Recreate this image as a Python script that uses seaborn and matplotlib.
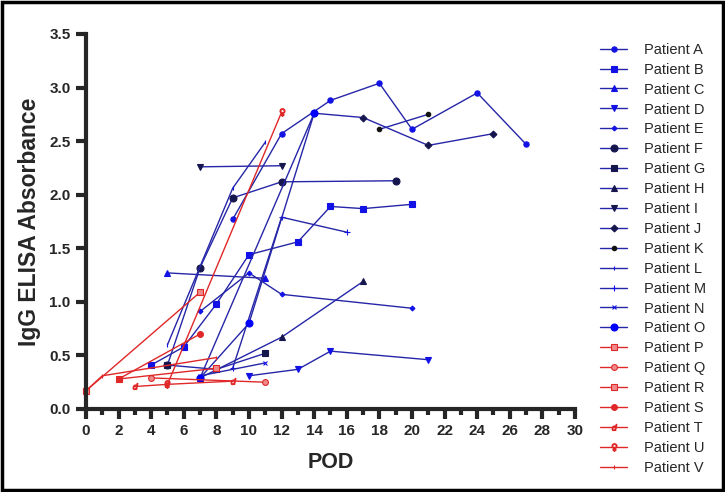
import pandas as pd
import matplotlib
matplotlib.use('Agg')
import matplotlib.pyplot as plt
import seaborn as sns
from matplotlib.patches import Rectangle

# data: POD and IgG absorbance per patient
patients = ['Patient ' + c for c in 'ABCDEFGHIJKLMNOPQRSTUV']

pod_a = [9, 12, 15, 18, 20, 24, 27]
abs_a = [1.77, 2.57, 2.88, 3.04, 2.61, 2.95, 2.47]
pod_b = [4, 6, 8, 10, 13, 15, 17, 20]
abs_b = [0.41, 0.58, 0.98, 1.44, 1.56, 1.89, 1.87, 1.91]
pod_c = [5, 11]
abs_c = [1.27, 1.22]
pod_d = [10, 13, 15, 21]
abs_d = [0.31, 0.37, 0.54, 0.46]
pod_e = [7, 10, 12, 20]
abs_e = [0.91, 1.27, 1.07, 0.94]
pod_f = [5, 7, 9, 12, 19]
abs_f = [0.41, 1.32, 1.97, 2.12, 2.13]
pod_g = [5, 8, 11]
abs_g = [0.41, 0.37, 0.52]
pod_h = [7, 12, 17]
abs_h = [0.29, 0.67, 1.19]
pod_i = [7, 12]
abs_i = [2.26, 2.27]
pod_j = [7, 14, 17, 21, 25]
abs_j = [0.29, 2.76, 2.72, 2.46, 2.57]
pod_k = [18, 21]
abs_k = [2.61, 2.75]
pod_l = [5, 9, 11]
abs_l = [0.60, 2.06, 2.49]
pod_m = [9, 12, 16]
abs_m = [0.38, 1.79, 1.65]
pod_n = [7, 11]
abs_n = [0.31, 0.43]
pod_o = [7, 10, 14]
abs_o = [0.29, 0.80, 2.76]
pod_p = [0, 7]
abs_p = [0.17, 1.09]
pod_q = [4, 11]
abs_q = [0.29, 0.25]
pod_r = [2, 8]
abs_r = [0.28, 0.38]
pod_s = [2, 7]
abs_s = [0.28, 0.70]
pod_t = [3, 5, 9]
abs_t = [0.21, 0.23, 0.26]
pod_u = [5, 12]
abs_u = [0.23, 2.77]
pod_v = [0, 1, 8]
abs_v = [0.17, 0.31, 0.48]

pods = [pod_a, pod_b, pod_c, pod_d, pod_e, pod_f, pod_g, pod_h, pod_i, pod_j, pod_k,
        pod_l, pod_m, pod_n, pod_o, pod_p, pod_q, pod_r, pod_s, pod_t, pod_u, pod_v]
absb = [abs_a, abs_b, abs_c, abs_d, abs_e, abs_f, abs_g, abs_h, abs_i, abs_j, abs_k,
        abs_l, abs_m, abs_n, abs_o, abs_p, abs_q, abs_r, abs_s, abs_t, abs_u, abs_v]

rows = []
for name, xs, ys in zip(patients, pods, absb):
    for x, y in zip(xs, ys):
        rows.append({'Patient': name, 'POD': x, 'Abs': y})
df = pd.DataFrame(rows)

# marker styling: (marker, size, face, edge)
blue = '#1212e6'
navy = '#16164e'
line_blue = '#2626a8'
red = '#e02828'
pink = '#f08a8a'
styles = {
    'Patient A': ('o', 3.8, blue, blue),
    'Patient B': ('s', 3.8, blue, blue),
    'Patient C': ('^', 3.8, blue, blue),
    'Patient D': ('v', 3.8, blue, blue),
    'Patient E': ('D', 2.5, blue, blue),
    'Patient F': ('o', 5, navy, navy),
    'Patient G': ('s', 4.5, navy, navy),
    'Patient H': ('^', 5, navy, navy),
    'Patient I': ('v', 5, navy, navy),
    'Patient J': ('D', 3.5, navy, navy),
    'Patient K': ('o', 3.2, '#111111', '#111111'),
    'Patient L': ('|', 3, blue, blue),
    'Patient M': ('+', 5, blue, blue),
    'Patient N': ('x', 3.5, blue, blue),
    'Patient O': ('o', 5, '#0000ff', '#0000ff'),
    'Patient P': ('s', 4.5, pink, red),
    'Patient Q': ('o', 4.2, pink, red),
    'Patient R': ('s', 4.5, pink, red),
    'Patient S': ('o', 4.2, red, red),
    'Patient T': ('$d$', 4.5, red, red),
    'Patient U': ('$\u2640$', 5.5, red, red),
    'Patient V': ('|', 3, red, red),
}

sns.set_style('ticks')
plt.rcParams['font.family'] = ['Liberation Sans', 'DejaVu Sans']

fig = plt.figure(figsize=(7.25, 4.92), dpi=100)
ax = fig.add_axes([0.1186, 0.1687, 0.6745, 0.7623])

for name in patients:
    m, ms, fc, ec = styles[name]
    lc = red if name >= 'Patient P' else line_blue
    sns.lineplot(data=df[df['Patient'] == name], x='POD', y='Abs', ax=ax,
                 color=lc, linewidth=1.0, marker=m, markersize=ms,
                 markerfacecolor=fc, markeredgecolor=ec, markeredgewidth=0.8,
                 label=name, sort=False, estimator=None, clip_on=False)

ax.set_xlim(0, 30)
ax.set_ylim(0, 3.5)
ax.set_xticks(range(0, 31, 2))
ax.set_xticks(range(1, 30, 2), minor=True)
ax.set_yticks([0, 0.5, 1.0, 1.5, 2.0, 2.5, 3.0, 3.5])
ax.set_yticklabels(['0.0', '0.5', '1.0', '1.5', '2.0', '2.5', '3.0', '3.5'])
ax.tick_params(axis='both', which='major', length=7, width=3, labelsize=11, pad=4)
ax.tick_params(axis='x', which='minor', length=4, width=3)
for lab in ax.get_xticklabels() + ax.get_yticklabels():
    lab.set_fontweight('bold')
for s in ['top', 'right']:
    ax.spines[s].set_visible(False)
for s in ['left', 'bottom']:
    ax.spines[s].set_linewidth(3)

ax.set_xlabel('POD', fontsize=15.5, fontweight='bold', labelpad=10)
ax.set_ylabel('IgG ELISA Absorbance', fontsize=16.5, fontweight='bold', labelpad=6)

ax.legend(loc='upper left', bbox_to_anchor=(1.04, 0.992), frameon=False,
          fontsize=10.5, handlelength=1.8, handletextpad=1.2,
          labelspacing=0.405, borderaxespad=0)

fig.add_artist(Rectangle((0.003, 0.004), 0.994, 0.992, transform=fig.transFigure,
                         fill=False, edgecolor='black', linewidth=2.5))

fig.savefig('out.png', dpi=100)
